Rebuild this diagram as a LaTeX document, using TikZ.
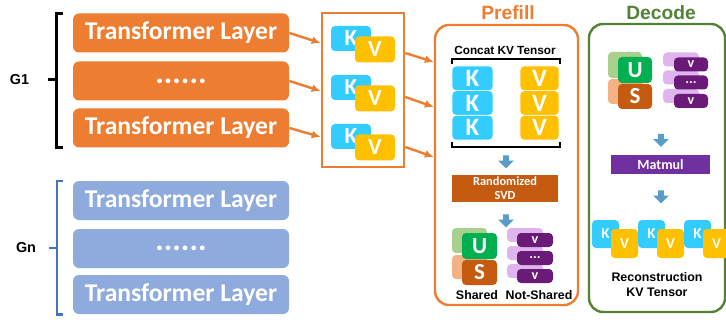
\documentclass[tikz,border=0pt]{standalone}
\usepackage{fontspec}
\setmainfont{Liberation Sans}
\newfontfamily\calfont{Carlito}
\usetikzlibrary{arrows.meta, shapes.arrows}

\definecolor{layerorange}{HTML}{ED7D31}
\definecolor{layerblue}{HTML}{8FAADC}
\definecolor{bracketblue}{HTML}{4472C4}
\definecolor{kcyan}{HTML}{33CCFF}
\definecolor{vgold}{HTML}{FFC000}
\definecolor{ugreen}{HTML}{00B050}
\definecolor{ulight}{HTML}{A9D18E}
\definecolor{sbrown}{HTML}{C55A11}
\definecolor{slight}{HTML}{F4B183}
\definecolor{vpurple}{HTML}{6A1B78}
\definecolor{vlight}{HTML}{E0B4EE}
\definecolor{mmpurple}{HTML}{7030A0}
\definecolor{stepblue}{HTML}{5A9CC8}
\definecolor{decgreen}{HTML}{548235}
\newcommand{\threedots}{...}

\begin{document}
\begin{tikzpicture}[x=0.5pt, y=-0.5pt,
		layer/.style={fill=#1, rounded corners=3pt, minimum width=108pt, minimum height=19.5pt,
			inner sep=0pt, text=white, font=\calfont\bfseries\fontsize{12.8}{13}\selectfont},
		cell/.style={fill=#1, rounded corners=2pt, inner sep=0pt, text=white,
			font=\calfont\bfseries\fontsize{11.5}{12}\selectfont},
		flow/.style={layerorange, line width=1.2pt, -{Latex[length=4.5pt, width=4pt]}},
		phase/.style={draw=#1, line width=1.2pt, rounded corners=7pt, inner sep=0pt},
		title/.style={text=#1, font=\bfseries\fontsize{9.6}{11}\selectfont},
		caption/.style={font=\bfseries\fontsize{6.2}{7.5}\selectfont, align=center},
		down/.style={single arrow, shape border rotate=270, fill=stepblue, inner sep=1.25pt,
			minimum height=6.5pt, single arrow head extend=2.5pt},
		op/.style={fill=#1, inner sep=0pt, text=white, align=center,
			font=\calfont\bfseries\fontsize{6.2}{7}\selectfont},
	]
	\useasboundingbox (0,0) rectangle (726,320);
	\clip (0,0) rectangle (726,320);

	% layer groups
	\node[layer=layerorange] (o1) at (181,33) {Transformer Layer};
	\node[layer=layerorange] (o2) at (181,81) {\fontsize{16}{16}\selectfont......};
	\node[layer=layerorange] (o3) at (181,128) {Transformer Layer};
	\node[layer=layerblue] (b1) at (181,200.5) {Transformer Layer};
	\node[layer=layerblue] (b2) at (181,248.5) {\fontsize{16}{16}\selectfont......};
	\node[layer=layerblue] (b3) at (181,294.5) {Transformer Layer};

	\draw[line width=1.5pt] ([xshift=-5pt]o1.north west) -- ([xshift=-8pt]o1.north west)
		-- ([xshift=-8pt]o3.south west) -- ([xshift=-5pt]o3.south west);
	\draw[line width=1.5pt] (57,80) -- (48,80);
	\node[font=\bfseries\fontsize{7.2}{8}\selectfont] (g1) at (19.5,80) {G1};

	\draw[bracketblue, line width=1.1pt] ([xshift=-5pt]b1.north west) -- ([xshift=-8pt]b1.north west)
		-- ([xshift=-8pt]b3.south west) -- ([xshift=-5pt]b3.south west);
	\draw[bracketblue, line width=1.1pt] (57,248) -- (49,248);
	\node[font=\bfseries\fontsize{7.2}{8}\selectfont] (gn) at (26,248) {Gn};

	% per layer KV
	\node[draw=layerorange, line width=1.3pt, minimum width=41pt, minimum height=77pt, inner sep=0pt] (kvbox) at (363,90) {};
	\foreach \i/\y in {1/38.5, 2/87.5, 3/136.5} {
		\node[cell=kcyan, minimum width=20pt, minimum height=12.5pt] (k\i) at (351,\y) {K\hspace{7pt}};
		\node[cell=vgold, minimum width=20pt, minimum height=13pt] (v\i) at (375,\y+11) {V};
	}

	\draw[flow] (o1.east) -- (kvbox.west |- 0,43);
	\draw[flow] (o2.east) -- (kvbox.west |- 0,91);
	\draw[flow] (o3.east) -- (kvbox.west |- 0,137);

	% prefill
	\node[phase=layerorange, minimum width=71.5pt, minimum height=140pt] (prefill) at (506.5,165) {};
	\node[title=layerorange] (pretitle) at (508,13) {Prefill};

	\draw[flow] (kvbox.east |- 0,53) -- (prefill.west |- 0,62);
	\draw[flow] (kvbox.east |- 0,97) -- (prefill.west |- 0,107);
	\draw[flow] (kvbox.east |- 0,147) -- (prefill.west |- 0,157);

	\node[font=\bfseries\fontsize{5.9}{7}\selectfont] (concat) at (505,50) {Concat KV Tensor};
	\draw[line width=1.1pt] (452,64) -- (452,59) -- (560,59) -- (560,64);
	\draw[line width=1.1pt] (452,142) -- (452,147) -- (560,147) -- (560,142);
	\foreach \i/\y in {1/78.3, 2/103, 3/127.7} {
		\node[cell=kcyan, draw=white, line width=0.3pt, minimum width=20.5pt, minimum height=12.3pt,
			font=\calfont\bfseries\fontsize{12.5}{12}\selectfont] (ck\i) at (472.5,\y) {K};
		\node[cell=vgold, draw=white, line width=0.3pt, minimum width=19.5pt, minimum height=12.3pt,
			font=\calfont\bfseries\fontsize{12.5}{12}\selectfont] (cv\i) at (539.5,\y) {V};
	}

	\node[down] (pa1) at (506,160.5) {};
	\node[op=sbrown, minimum width=53pt, minimum height=13.5pt] (svd) at (505,188.5) {Randomized\\SVD};
	\node[down] (pa2) at (506,219.5) {};

	\node[cell=ulight, minimum width=17.5pt, minimum height=12.5pt] (pul) at (469.5,240.5) {};
	\node[cell=slight, minimum width=17.5pt, minimum height=12pt] (psl) at (469.5,267) {};
	\node[cell=ugreen, minimum width=17.5pt, minimum height=13pt] (pu) at (479.5,246) {U};
	\node[cell=sbrown, minimum width=17.5pt, minimum height=12.5pt] (ps) at (479.5,272.5) {S};
	\foreach \i/\y in {1/240, 2/258, 3/276} {
		\node[cell=vlight, minimum width=18pt, minimum height=7pt] (pvl\i) at (525,\y-5) {};
	}
	\foreach \i/\y/\t in {1/240/v, 2/258/\threedots, 3/276/v} {
		\node[cell=vpurple, minimum width=18pt, minimum height=7pt,
			font=\calfont\bfseries\fontsize{7}{7}\selectfont] (pv\i) at (535,\y) {\t};
	}
	\node[caption] (shared) at (477,295) {Shared};
	\node[caption] (notshared) at (539,295) {Not-Shared};

	% decode
	\node[phase=decgreen, minimum width=68pt, minimum height=144pt] (decode) at (657,168) {};
	\node[title=decgreen] (dectitle) at (661,13) {Decode};

	\node[cell=ulight, minimum width=17pt, minimum height=13pt] (dul) at (625,65) {};
	\node[cell=slight, minimum width=17pt, minimum height=12.5pt] (dsl) at (625,91.5) {};
	\node[cell=ugreen, minimum width=17pt, minimum height=13pt] (du) at (635,70) {U};
	\node[cell=sbrown, minimum width=17pt, minimum height=12.5pt] (ds) at (635,96.5) {S};
	\foreach \i/\y in {1/64.5, 2/82.5, 3/101} {
		\node[cell=vlight, minimum width=18pt, minimum height=7pt] (dvl\i) at (681,\y-5) {};
	}
	\foreach \i/\y/\t in {1/64.5/v, 2/82.5/\threedots, 3/101/v} {
		\node[cell=vpurple, minimum width=17pt, minimum height=7pt,
			font=\calfont\bfseries\fontsize{7}{7}\selectfont] (dv\i) at (691,\y) {\t};
	}

	\node[down] (da1) at (661,139) {};
	\node[op=mmpurple, minimum width=49.5pt, minimum height=9.5pt,
		font=\calfont\bfseries\fontsize{7}{7}\selectfont] (matmul) at (660.5,164.5) {Matmul};
	\node[down] (da2) at (661,195.5) {};

	\foreach \i/\x in {1/605.5, 2/651.5, 3/697.5} {
		\node[cell=kcyan, minimum width=13.5pt, minimum height=14pt,
			font=\calfont\bfseries\fontsize{7.5}{7}\selectfont] (rk\i) at (\x,234) {K\hspace{4pt}};
		\node[cell=vgold, minimum width=13.5pt, minimum height=14.5pt,
			font=\calfont\bfseries\fontsize{7.5}{7}\selectfont] (rv\i) at (\x+19,243.5) {V};
	}
	\node[caption] (recon) at (657,284.5) {Reconstruction\\KV Tensor};
\end{tikzpicture}
\end{document}
